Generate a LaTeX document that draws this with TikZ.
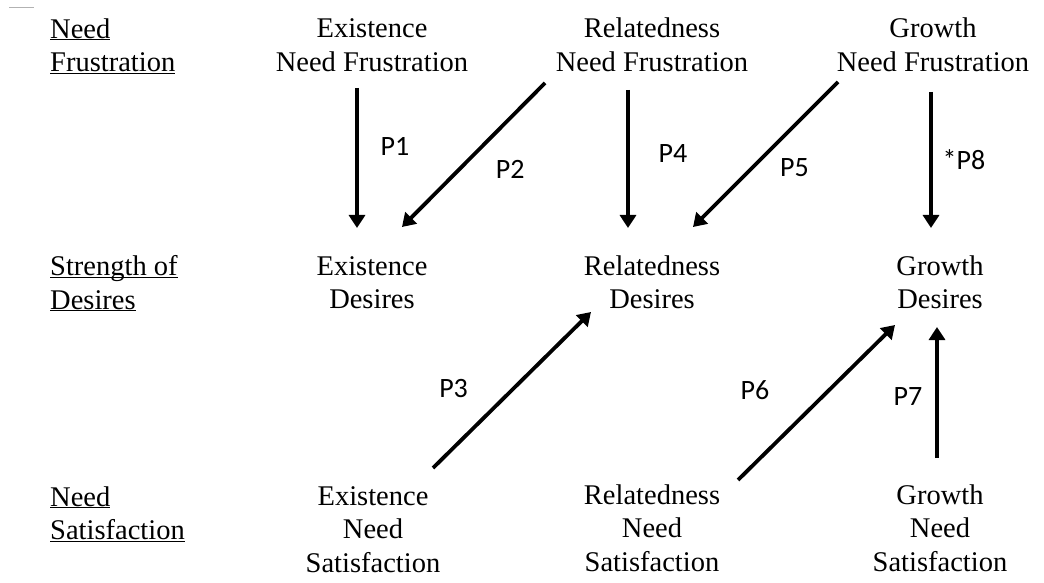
\documentclass[tikz,border=0pt]{standalone}
\usepackage{fontspec}
\setmainfont{Liberation Serif}
\newfontfamily\plfont{Carlito}
\usetikzlibrary{arrows.meta,positioning}

\newcommand{\rowul}[1]{\underline{\raisebox{0pt}[\height][0pt]{#1}}}

\begin{document}
\begin{tikzpicture}[x=1pt, y=1pt,
  need/.style={align=center, inner sep=0pt, font=\fontsize{28.5}{33.5}\selectfont},
  rowname/.style={need, align=left, anchor=west},
  line/.style={draw, line width=3.8pt, -{Triangle[length=13pt, width=16pt]}},
  plabel/.style={inner sep=0pt, font=\plfont\fontsize{28}{32}\selectfont}]

  \useasboundingbox (0,0) rectangle (1044,582);
  \draw[gray!60, line width=1pt] (9,574) -- (34,574);

  % Row names
  \node [rowname] (nfr) at (50,536) {\rowul{Need}\\\rowul{Frustration}};
  \node [rowname] (sod) at (50,298.5) {\rowul{Strength of}\\\rowul{Desires}};
  \node [rowname] (nsa) at (50,68) {\rowul{Need}\\\rowul{Satisfaction}};

  % Nodes
  \node [need] (efr) at (372,537) {Existence\\Need Frustration};
  \node [need] (rfr) at (652,537) {Relatedness\\Need Frustration};
  \node [need] (gfr) at (933,537) {Growth\\Need Frustration};
  \node [need] (eds) at (372,299.5) {Existence\\Desires};
  \node [need] (rds) at (652,299.5) {Relatedness\\Desires};
  \node [need] (gds) at (940,299.5) {Growth\\Desires};
  \node [need] (esa) at (373,52.5) {Existence\\Need\\Satisfaction};
  \node [need] (rsa) at (652,54) {Relatedness\\Need\\Satisfaction};
  \node [need] (gsa) at (940,54) {Growth\\Need\\Satisfaction};

  % Edges
  \path [line] ([shift={(-15,-43)}]efr.center) -- node[plabel, pos=.42, xshift=38pt] {P1} ([shift={(-15,54.5)}]eds.center);
  \path [line] ([shift={(-107,-38)}]rfr.center) -- node[plabel, pos=.6, xshift=51pt] {P2} ([shift={(30,55.5)}]eds.center);
  \path [line] ([shift={(-24,-45)}]rfr.center) -- node[plabel, pos=.46, xshift=45pt] {P4} ([shift={(-24,54.5)}]rds.center);
  \path [line] ([shift={(-95,-37)}]gfr.center) -- node[plabel, pos=.59, xshift=42pt] {P5} ([shift={(41,55.5)}]rds.center);
  \path [line] ([shift={(-2,-47)}]gfr.center) -- node[plabel, pos=.5, xshift=33pt] {*P8} ([shift={(-9,54.5)}]gds.center);

  \path [line] ([shift={(60,61.5)}]esa.center) -- node[plabel, pos=.51, xshift=-60pt] {P3} ([shift={(-61,-29.5)}]rds.center);
  \path [line] ([shift={(86,48)}]rsa.center) -- node[plabel, pos=.58, xshift=-74pt] {P6} ([shift={(-45,-42.5)}]gds.center);
  \path [line] ([shift={(-3,70)}]gsa.center) -- node[plabel, pos=.47, xshift=-29pt] {P7} ([shift={(-3,-44.5)}]gds.center);

\end{tikzpicture}
\end{document}
